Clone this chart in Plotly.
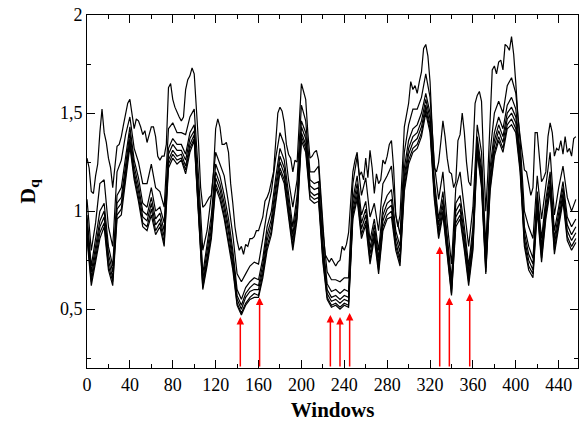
import plotly.graph_objects as go

# window index: bundle series every 4 windows, top series every 2 windows
windows = list(range(0, 460, 4))
windows_top = list(range(0, 458, 2))

d_top = [1.27, 1.22, 1.10, 1.09, 1.18, 1.24, 1.40, 1.52, 1.40, 1.35,
         1.27, 1.22, 1.12, 1.24, 1.33, 1.34, 1.38, 1.44, 1.50, 1.55,
         1.57, 1.48, 1.42, 1.47, 1.46, 1.43, 1.39, 1.41, 1.35, 1.39,
         1.43, 1.43, 1.38, 1.28, 1.26, 1.28, 1.28, 1.34, 1.63, 1.65,
         1.57, 1.53, 1.50, 1.48, 1.46, 1.48, 1.62, 1.67, 1.69, 1.73,
         1.70, 1.55, 1.35, 1.12, 1.02, 1.03, 1.05, 1.07, 1.08, 1.20,
         1.42, 1.47, 1.43, 1.34, 1.34, 1.35, 1.30, 1.14, 1.04, 0.92,
         0.85, 0.80, 0.82, 0.78, 0.83, 0.82, 0.86, 0.86, 0.87, 0.90,
         0.90, 0.93, 0.97, 1.05, 1.07, 1.10, 1.16, 1.20, 1.35, 1.50,
         1.53, 1.51, 1.45, 1.34, 1.29, 1.27, 1.20, 1.26, 1.25, 1.48,
         1.65, 1.61, 1.57, 1.40, 1.27, 1.28, 1.30, 1.31, 1.26, 1.10,
         0.92, 0.78, 0.76, 0.74, 0.76, 0.74, 0.72, 0.74, 0.75, 0.82,
         0.80, 0.83, 0.89, 1.05, 1.20, 1.26, 1.30, 1.18, 1.20, 1.16,
         1.27, 1.17, 1.31, 1.22, 1.09, 1.19, 1.14, 1.16, 1.26, 1.24,
         1.28, 1.34, 1.36, 1.22, 0.98, 0.92, 0.98, 1.20, 1.43, 1.49,
         1.55, 1.66, 1.62, 1.64, 1.60, 1.66, 1.71, 1.83, 1.85, 1.79,
         1.66, 1.42, 1.22, 1.20, 1.25, 1.35, 1.46, 1.38, 1.27, 1.20,
         1.19, 1.12, 1.15, 1.36, 1.39, 1.50, 1.40, 1.25, 1.15, 1.13,
         1.30, 1.55, 1.59, 1.61, 1.56, 1.25, 1.00, 1.20, 1.50, 1.72,
         1.74, 1.70, 1.76, 1.77, 1.72, 1.85, 1.84, 1.82, 1.89, 1.80,
         1.65, 1.48, 1.38, 1.29, 1.21, 1.20, 1.13, 1.08, 1.12, 1.40,
         1.40, 1.25, 1.15, 1.17, 1.20, 1.38, 1.45, 1.40, 1.28, 1.32,
         1.31, 1.36, 1.29, 1.38, 1.30, 1.32, 1.28, 1.37, 1.38]

d_2 = [1.06, 0.80, 0.94, 1.14, 1.16, 0.92, 0.82, 1.20, 1.26, 1.39,
       1.48, 1.32, 1.25, 1.14, 1.14, 1.24, 1.12, 1.10, 1.02, 1.42,
       1.45, 1.40, 1.40, 1.39, 1.48, 1.52, 1.18, 0.80, 0.90, 1.08,
       1.30, 1.24, 1.18, 1.04, 0.88, 0.68, 0.64, 0.68, 0.72, 0.74,
       0.73, 0.86, 1.00, 1.10, 1.27, 1.40, 1.34, 1.16, 1.02, 1.16,
       1.54, 1.46, 1.20, 1.20, 1.23, 0.90, 0.69, 0.65, 0.65, 0.64,
       0.66, 0.66, 1.14, 1.28, 1.08, 1.17, 0.97, 1.04, 0.90, 1.14,
       1.18, 1.23, 0.98, 0.88, 1.30, 1.44, 1.52, 1.52, 1.58, 1.70,
       1.58, 1.24, 1.06, 1.20, 0.94, 0.73, 1.12, 1.20, 1.02, 0.82,
       1.02, 1.44, 1.30, 0.82, 1.30, 1.50, 1.56, 1.50, 1.64, 1.68,
       1.60, 1.36, 1.00, 0.92, 0.86, 1.18, 0.96, 1.14, 1.30, 0.98,
       1.12, 1.23, 1.07, 1.00, 1.06]

d_3 = [0.98, 0.72, 0.86, 1.00, 1.04, 0.82, 0.72, 1.08, 1.12, 1.27,
       1.43, 1.26, 1.17, 1.04, 1.02, 1.12, 1.00, 1.02, 0.94, 1.32,
       1.37, 1.34, 1.34, 1.29, 1.40, 1.44, 1.10, 0.68, 0.82, 0.98,
       1.24, 1.18, 1.08, 0.96, 0.80, 0.60, 0.55, 0.61, 0.64, 0.66,
       0.65, 0.76, 0.92, 1.00, 1.17, 1.32, 1.26, 1.08, 0.92, 1.08,
       1.46, 1.40, 1.16, 1.14, 1.15, 0.84, 0.63, 0.59, 0.60, 0.58,
       0.60, 0.59, 1.06, 1.18, 0.98, 1.05, 0.85, 0.96, 0.80, 1.02,
       1.08, 1.11, 0.90, 0.82, 1.22, 1.36, 1.42, 1.44, 1.50, 1.60,
       1.50, 1.16, 0.96, 1.10, 0.86, 0.65, 1.04, 1.08, 0.92, 0.72,
       0.92, 1.38, 1.22, 0.76, 1.22, 1.40, 1.48, 1.42, 1.54, 1.58,
       1.52, 1.30, 0.92, 0.82, 0.76, 1.10, 0.86, 1.06, 1.20, 0.90,
       1.02, 1.15, 0.97, 0.92, 0.96]

d_4 = [0.94, 0.69, 0.82, 0.95, 1.00, 0.78, 0.69, 1.04, 1.07, 1.23,
       1.40, 1.23, 1.13, 1.00, 0.98, 1.07, 0.96, 0.99, 0.90, 1.29,
       1.34, 1.31, 1.31, 1.26, 1.37, 1.41, 1.07, 0.65, 0.79, 0.94,
       1.20, 1.14, 1.04, 0.92, 0.77, 0.57, 0.52, 0.58, 0.61, 0.63,
       0.62, 0.73, 0.88, 0.96, 1.13, 1.28, 1.22, 1.04, 0.88, 1.04,
       1.43, 1.37, 1.13, 1.11, 1.12, 0.81, 0.60, 0.56, 0.57, 0.55,
       0.57, 0.56, 1.03, 1.14, 0.94, 1.01, 0.81, 0.93, 0.76, 0.98,
       1.04, 1.06, 0.87, 0.79, 1.18, 1.32, 1.38, 1.40, 1.46, 1.57,
       1.47, 1.13, 0.93, 1.06, 0.83, 0.62, 1.00, 1.04, 0.88, 0.69,
       0.88, 1.35, 1.19, 0.73, 1.18, 1.36, 1.44, 1.38, 1.50, 1.53,
       1.48, 1.27, 0.89, 0.78, 0.73, 1.07, 0.82, 1.03, 1.17, 0.86,
       0.99, 1.12, 0.93, 0.88, 0.92]

d_5 = [0.91, 0.66, 0.79, 0.92, 0.97, 0.75, 0.66, 1.01, 1.04, 1.20,
       1.37, 1.20, 1.10, 0.97, 0.95, 1.04, 0.93, 0.96, 0.87, 1.26,
       1.31, 1.28, 1.29, 1.23, 1.34, 1.39, 1.04, 0.63, 0.76, 0.91,
       1.17, 1.11, 1.01, 0.89, 0.74, 0.55, 0.50, 0.56, 0.59, 0.60,
       0.60, 0.70, 0.85, 0.93, 1.10, 1.25, 1.19, 1.01, 0.85, 1.01,
       1.40, 1.34, 1.10, 1.08, 1.09, 0.78, 0.58, 0.54, 0.55, 0.53,
       0.55, 0.54, 1.00, 1.11, 0.91, 0.98, 0.78, 0.90, 0.73, 0.95,
       1.01, 1.03, 0.84, 0.76, 1.15, 1.29, 1.35, 1.37, 1.43, 1.54,
       1.44, 1.10, 0.90, 1.03, 0.80, 0.60, 0.97, 1.01, 0.85, 0.66,
       0.85, 1.33, 1.16, 0.71, 1.15, 1.33, 1.41, 1.35, 1.47, 1.50,
       1.45, 1.24, 0.86, 0.75, 0.70, 1.04, 0.79, 1.00, 1.14, 0.83,
       0.96, 1.09, 0.90, 0.85, 0.89]

d_6 = [0.88, 0.64, 0.76, 0.89, 0.94, 0.72, 0.64, 0.98, 1.01, 1.17,
       1.35, 1.18, 1.07, 0.94, 0.92, 1.01, 0.90, 0.94, 0.84, 1.24,
       1.29, 1.26, 1.27, 1.21, 1.32, 1.37, 1.02, 0.61, 0.74, 0.88,
       1.14, 1.08, 0.98, 0.86, 0.72, 0.53, 0.48, 0.53, 0.56, 0.58,
       0.57, 0.68, 0.82, 0.90, 1.07, 1.22, 1.16, 0.98, 0.82, 0.98,
       1.38, 1.32, 1.08, 1.06, 1.07, 0.76, 0.56, 0.52, 0.53, 0.51,
       0.53, 0.52, 0.98, 1.08, 0.88, 0.95, 0.75, 0.88, 0.70, 0.92,
       0.98, 1.00, 0.82, 0.74, 1.12, 1.26, 1.32, 1.34, 1.40, 1.52,
       1.42, 1.08, 0.88, 1.00, 0.78, 0.58, 0.94, 0.98, 0.82, 0.64,
       0.82, 1.31, 1.14, 0.69, 1.12, 1.30, 1.38, 1.32, 1.44, 1.47,
       1.42, 1.22, 0.84, 0.72, 0.68, 1.02, 0.76, 0.98, 1.12, 0.80,
       0.94, 1.07, 0.87, 0.82, 0.86]

d_bottom = [0.86, 0.62, 0.74, 0.86, 0.92, 0.70, 0.62, 0.96, 0.98, 1.15,
            1.33, 1.16, 1.05, 0.92, 0.90, 0.98, 0.88, 0.92, 0.82, 1.22,
            1.27, 1.24, 1.26, 1.19, 1.30, 1.36, 1.00, 0.60, 0.72, 0.86,
            1.12, 1.06, 0.96, 0.84, 0.70, 0.52, 0.47, 0.52, 0.55, 0.56,
            0.56, 0.66, 0.80, 0.88, 1.05, 1.20, 1.14, 0.96, 0.80, 0.96,
            1.36, 1.30, 1.06, 1.04, 1.05, 0.74, 0.55, 0.51, 0.52, 0.50,
            0.52, 0.51, 0.96, 1.06, 0.86, 0.93, 0.73, 0.86, 0.68, 0.90,
            0.96, 0.97, 0.80, 0.72, 1.10, 1.24, 1.30, 1.32, 1.38, 1.50,
            1.40, 1.06, 0.86, 0.98, 0.76, 0.57, 0.92, 0.96, 0.80, 0.62,
            0.80, 1.30, 1.12, 0.68, 1.10, 1.28, 1.36, 1.30, 1.42, 1.44,
            1.40, 1.20, 0.82, 0.70, 0.66, 1.00, 0.74, 0.96, 1.10, 0.78,
            0.92, 1.05, 0.85, 0.80, 0.84]

bundle = [d_2, d_3, d_4, d_5, d_6, d_bottom]

arrow_x = [143, 161, 227, 236, 245, 329, 338, 357]
arrow_tip = [0.46, 0.56, 0.47, 0.46, 0.48, 0.82, 0.56, 0.58]

y_tickvals = [0.5, 1, 1.5, 2]
y_ticktext = ["0,5", "1", "1,5", "2"]
x_tickvals = [0, 40, 80, 120, 160, 200, 240, 280, 320, 360, 400, 440]

fig = go.Figure()
line_style = dict(color="black", width=1.2)
n_top = min(len(d_top), len(windows_top))
fig.add_trace(go.Scatter(x=windows_top[:n_top], y=d_top[:n_top], mode="lines",
                         line=line_style, showlegend=False, hoverinfo="skip"))
for s in bundle:
    n = min(len(s), len(windows))
    fig.add_trace(go.Scatter(x=windows[:n], y=s[:n], mode="lines",
                             line=line_style, showlegend=False, hoverinfo="skip"))

y_min = 0.2
for ax_x, tip in zip(arrow_x, arrow_tip):
    fig.add_annotation(x=ax_x, y=tip, ax=ax_x, ay=y_min, xref="x", yref="y",
                       axref="x", ayref="y", text="", showarrow=True,
                       arrowhead=2, arrowsize=1, arrowwidth=1.5,
                       arrowcolor="red", standoff=0, startstandoff=0)

font_family = "Liberation Serif, Times New Roman, serif"
fig.update_layout(
    width=581, height=428,
    margin=dict(l=87, r=3, t=15, b=60),
    paper_bgcolor="white", plot_bgcolor="white",
    font=dict(family=font_family, size=18, color="black"),
    xaxis=dict(range=[0, 458], tickvals=x_tickvals, ticks="inside", ticklen=8,
               tickwidth=1, tickcolor="black", showline=True, linecolor="black",
               linewidth=1, mirror="ticks", showgrid=False, zeroline=False,
               minor=dict(dtick=20, tick0=0, ticks="inside", ticklen=4,
                          tickcolor="black", showgrid=False),
               title=dict(text="<b>Windows</b>", font=dict(size=21), standoff=8),
               tickfont=dict(size=18)),
    yaxis=dict(range=[y_min, 2], tickvals=y_tickvals, ticktext=y_ticktext,
               ticks="inside", ticklen=8, tickwidth=1, tickcolor="black",
               showline=True, linecolor="black", linewidth=1, mirror="ticks",
               showgrid=False, zeroline=False,
               minor=dict(dtick=0.25, tick0=0, ticks="inside", ticklen=4,
                          tickcolor="black", showgrid=False),
               title=dict(text="<b>D<sub>q</sub></b>", font=dict(size=22), standoff=18),
               tickfont=dict(size=18)),
)

fig.write_html("out.html")
